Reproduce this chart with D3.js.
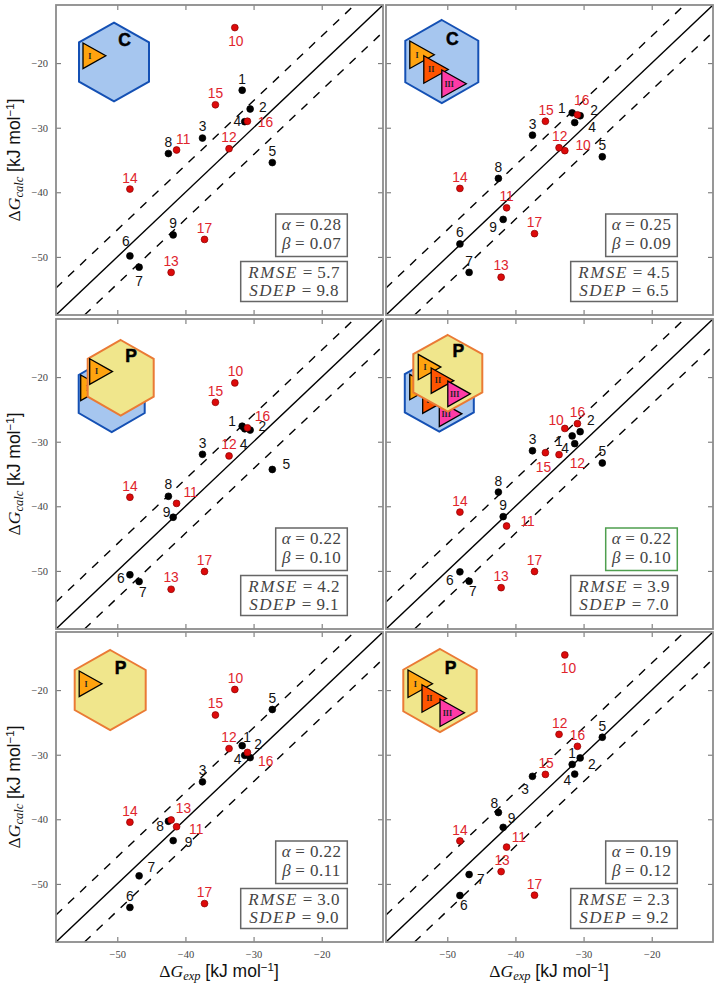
<!DOCTYPE html>
<html><head><meta charset="utf-8">
<script src="https://cdn.jsdelivr.net/npm/d3@7"></script>
<style>
html,body{margin:0;padding:0;background:#fff}
svg{display:block}
text{font-family:"Liberation Sans",Arial,sans-serif}
.math{font-family:"Liberation Serif","DejaVu Serif",serif}
</style></head><body><div id="chart"></div>
<script>
const ligands=[1,2,3,4,5,6,7,8,9,10,11,12,13,14,15,16,17];
const expValues=[-31.67,-30.5,-37.5,-31.3,-27.25,-48.15,-46.8,-42.5,-41.8,-32.75,-41.3,-33.6,-42.1,-48.15,-35.6,-30.9,-37.2];
const calcA=[-24.2,-27.1,-31.6,-29.07,-35.4,-49.85,-51.6,-34.0,-46.6,-14.5,-33.45,-33.25,-52.4,-39.5,-26.45,-29.0,-47.3];
const calcB=[-27.7,-28.15,-31.15,-29.2,-34.5,-48.0,-52.4,-37.85,-44.2,-33.55,-42.4,-33.1,-53.15,-39.4,-29.0,-28.0,-46.4];
const calcC=[-27.6,-28.2,-31.95,-28.0,-34.3,-50.6,-51.65,-38.45,-41.7,-20.9,-39.55,-32.2,-52.85,-38.6,-23.9,-27.85,-50.1];
const calcD=[-29.1,-28.45,-31.4,-30.3,-33.3,-50.15,-51.6,-37.8,-41.6,-27.95,-43.05,-32.0,-52.6,-40.9,-31.7,-27.2,-50.1];
const calcE=[-28.6,-30.45,-34.2,-30.1,-23.0,-53.65,-48.75,-40.3,-43.3,-19.9,-41.15,-29.05,-40.1,-40.45,-23.85,-29.65,-53.05];
const calcF=[-31.5,-30.5,-33.35,-33.0,-27.3,-51.8,-48.55,-38.95,-41.25,-14.55,-44.3,-26.85,-48.1,-43.35,-33.05,-28.7,-51.75];
const alphas=["0.28","0.25","0.22","0.22","0.22","0.19"];
const betas=["0.07","0.09","0.10","0.10","0.11","0.12"];
const rmse=["5.7","4.5","4.2","3.9","3.0","2.3"];
const sdep=["9.8","6.5","9.1","7.0","9.0","9.2"];
const axisTicks=[-50,-40,-30,-20];
const domain=[-59,-11];
const band=4.184;

// layout (separate from data)
const W=719,H=987;
const colX=[56,386], rowY=[5,319,632], pw=327, ph=310;
const labelOffsets=[
 [[0,-11],[12.7,-1],[0,-11.3],[-7.3,0],[0,-11],[-4,-14],[0,14.7],[0,-10.7],[0,-11],[1,14.3],[6.7,-10.7],[0,-11],[0,-11],[0,-11],[0,-11],[18,1],[0,-11]],
 [[-10.3,-4.7],[14,-5],[0,-11],[17.3,5],[0,-11.3],[0,-11],[0,-11.3],[0,-11.3],[-10,8],[18.3,-4.7],[0,-11],[0.7,-11],[0,-11.3],[0,-10.7],[0.7,-11],[4.3,-14.7],[0,-11]],
 [[-10,-4.3],[12.3,-3.7],[0,-11.3],[-1,15.3],[14,-5],[-9,3.7],[3.7,10.7],[0,-11.3],[-6.7,-5],[0.7,-11],[14,-11],[0,-11],[0,-11.3],[0,-11],[0,-11],[15,-11.3],[0,-11.3]],
 [[-13.3,5.7],[10.7,-10.7],[0,-11],[-9.7,5.3],[0,-11.7],[-10,8.7],[3.7,10.7],[0,-11],[0,-11.3],[-8.7,-7.7],[21,-4.3],[18.3,8.7],[0,-11],[0,-10.7],[-2,14.7],[0,-10.7],[0,-11.3]],
 [[5,-7.7],[8,-12.7],[0,-11.3],[-7,4.3],[0,-11.3],[0,-11.3],[12.3,-8.3],[-8.3,5],[15.3,1.7],[0.7,-11],[19.7,2.3],[0,-11],[12.3,-11],[0,-10.7],[0,-11],[18.3,8.7],[0,-11]],
 [[0,-10.7],[11.7,6.7],[-7.3,12.7],[-7.3,6.7],[0,-11],[4,10],[11.7,4.7],[-4,-9],[8.3,-9.3],[3.7,13.7],[12.3,-9.3],[0.7,-10.7],[1,-11],[0,-10.7],[0.7,-10.7],[0,-11],[0,-11]]
];
const BLUE={fill:"#a6c6ef",stroke:"#1450b4"}, YEL={fill:"#f0e68c",stroke:"#ea7a35"};
const TRI=[{fill:"#ffa30f",t:"I",dx:-32,dy:-20.5},{fill:"#ff5400",t:"II",dx:-18,dy:-5.8},{fill:"#ff3ba6",t:"III",dx:0,dy:8.5}];
const TRI1={dx:-31,dy:-19};
const glyphs=[
 [{h:"C",cx:114,cy:62,r:39.3,hw:35,n:1}],
 [{h:"C",cx:441.8,cy:61.5,r:41.5,hw:36.5,n:3}],
 [{h:"C",cx:111.7,cy:394,r:38,hw:33,n:1},{h:"P",cx:120.7,cy:377.8,r:37.8,hw:33,n:1}],
 [{h:"C",cx:439.3,cy:393.3,r:38.3,hw:34.5,n:3},{h:"P",cx:447.8,cy:373.3,r:38.3,hw:34.5,n:3}],
 [{h:"P",cx:110.2,cy:690,r:40,hw:35.5,n:1}],
 [{h:"P",cx:440,cy:690.5,r:41.5,hw:36.7,n:3}]
];
const calc=[calcA,calcB,calcC,calcD,calcE,calcF];

const svg=d3.select("#chart").append("svg").attr("width",W).attr("height",H);
const defs=svg.append("defs");
const x0=d3.scaleLinear().domain(domain).range([0,pw]);
const y0=d3.scaleLinear().domain(domain).range([ph,0]);
const fmt=v=>"\u2212"+Math.abs(v);

function glyph(sel,g){
  const col=g.h==="C"?BLUE:YEL;
  const a=sel.append("g").attr("transform",`translate(${g.cx},${g.cy})`);
  const pts=[[0,-g.r],[g.hw,-g.r/2],[g.hw,g.r/2],[0,g.r],[-g.hw,g.r/2],[-g.hw,-g.r/2]];
  a.append("polygon").attr("points",pts.join(" ")).attr("fill",col.fill).attr("stroke",col.stroke).attr("stroke-width",2);
  const s=g.r/41.5;
  TRI.slice(0,g.n).forEach((t,i)=>{
    const one=g.n===1;
    const dx=one?TRI1.dx:t.dx*s, dy=one?TRI1.dy:t.dy*s;
    const w=one?22.8:24.5*s, h=one?25.6:27.5*s;
    const b=a.append("g").attr("transform",`translate(${dx},${dy})`);
    b.append("polygon").attr("points",[[0,0],[w,h/2],[0,h]].join(" ")).attr("fill",t.fill).attr("stroke","#000").attr("stroke-width",1.3).attr("stroke-linejoin","miter");
    b.append("text").attr("class","math").attr("x",w*0.3).attr("y",h/2+2.8).attr("text-anchor","middle").attr("font-size",8).attr("font-weight","bold").attr("fill","#222").text(t.t);
  });
  a.append("text").attr("x",10.5).attr("y",-22.3).attr("text-anchor","middle").attr("font-size",17.5).attr("font-weight","bold")
    .attr("dominant-baseline","central").attr("fill","#000").attr("stroke","#000").attr("stroke-width",0.5).text(g.h);
}

function box(g,x0b,y0b,x1b,y1b,lines,stroke){
  g.append("rect").attr("x",x0b).attr("y",y0b).attr("width",x1b-x0b).attr("height",y1b-y0b).attr("fill","#fff").attr("stroke",stroke).attr("stroke-width",1.5);
  lines.forEach((l,i)=>{
    const t=g.append("text").attr("class","math").attr("x",(x0b+x1b)/2).attr("y",y0b+(i?34.8:16.4)).attr("text-anchor","middle").attr("font-size",17).attr("fill","#444");
    t.append("tspan").attr("font-style","italic").attr("letter-spacing",l[0].length>1?1.6:0).text(l[0]);
    t.append("tspan").attr("letter-spacing",0.4).text(" = "+l[1]);
  });
}

function axisLabel(sel,x,y,rot,sub){
  const t=sel.append("text").attr("transform",`translate(${x},${y})${rot?" rotate(-90)":""}`).attr("text-anchor","middle").attr("fill","#111").attr("font-size",17.5);
  t.append("tspan").attr("class","math").text("\u0394");
  t.append("tspan").attr("class","math").attr("font-style","italic").text("G");
  t.append("tspan").attr("class","math").attr("font-style","italic").attr("font-size",12.5).attr("dy",3).text(sub);
  t.append("tspan").attr("dy",-3).text(" [kJ mol");
  t.append("tspan").attr("font-size",11.5).attr("dy",-6).text("\u22121");
  t.append("tspan").attr("dy",6).text("]");
}

calc.forEach((ys,pi)=>{
  const col=pi%2,row=Math.floor(pi/2);
  const px=colX[col],py=rowY[row];
  const p=svg.append("g").attr("transform",`translate(${px},${py})`);
  const clipId="clip"+pi;
  defs.append("clipPath").attr("id",clipId).append("rect").attr("width",pw).attr("height",ph);
  const plot=p.append("g").attr("clip-path",`url(#${clipId})`);
  const line=d3.line().x(d=>x0(d[0])).y(d=>y0(d[1]));
  [[0,null],[band,"8.4,8.2"],[-band,"8.4,8.2"]].forEach(([o,dash])=>{
    const start=domain[0]+Math.max(0,-o), end=domain[1]-Math.max(0,o);
    plot.append("path").datum([[start,start+o],[end,end+o]])
      .attr("d",line).attr("fill","none").attr("stroke","#000").attr("stroke-width",1.4).attr("stroke-dasharray",dash);
  });
  // axes: inward ticks on four sides
  const mk=(ax,tr)=>{const a=p.append("g").attr("transform",tr).call(ax);a.select(".domain").remove();a.selectAll("line").attr("stroke","#444").attr("stroke-width",0.8);return a;};
  const left=mk(d3.axisLeft(y0).tickValues(axisTicks).tickSize(-5).tickPadding(8).tickFormat(fmt),"translate(0,0)");
  const right=mk(d3.axisRight(y0).tickValues(axisTicks).tickSize(-5).tickFormat(""),`translate(${pw},0)`);
  const top=mk(d3.axisTop(x0).tickValues(axisTicks).tickSize(-5).tickFormat(""),"translate(0,0)");
  const bot=mk(d3.axisBottom(x0).tickValues(axisTicks).tickSize(-5).tickPadding(9).tickFormat(fmt),`translate(0,${ph})`);
  if(col===1) left.selectAll("text").remove();
  if(row<2) bot.selectAll("text").remove();
  [left,bot].forEach(a=>a.selectAll("text").attr("class","math").style("font-family",'"Liberation Serif",serif').attr("font-size",10.5).attr("fill","#444"));
  p.append("rect").attr("width",pw).attr("height",ph).attr("fill","none").attr("stroke","#8c8c8c").attr("stroke-width",1.8);

  const pts=ligands.map((id,i)=>({id,x:expValues[i],y:ys[i],o:labelOffsets[pi][i]}));
  const red=d=>d.id>=10;
  p.append("g").selectAll("circle").data(pts).join("circle")
    .attr("cx",d=>x0(d.x)).attr("cy",d=>y0(d.y)).attr("r",3.4)
    .attr("fill",d=>red(d)?"#dd0a0a":"#000").attr("stroke",d=>red(d)?"#8a0000":"#000").attr("stroke-width",0.7);
  p.append("g").selectAll("text").data(pts).join("text")
    .attr("x",d=>x0(d.x)+d.o[0]).attr("y",d=>y0(d.y)+d.o[1]).attr("text-anchor","middle").attr("dominant-baseline","central")
    .attr("font-size",13.8).attr("fill",d=>red(d)?"#e0242c":"#111").text(d=>d.id);

  const bg=p.append("g");
  const by=[209,251.5,256.5,296.5];
  box(bg,219.7,by[0],291.3,by[1],[["\u03b1",alphas[pi]],["\u03b2",betas[pi]]],pi===3?"#4f9f4f":"#666");
  box(bg,184.7,by[2],291.3,by[3],[["RMSE",rmse[pi]],["SDEP",sdep[pi]]],"#666");
  if(col===0) axisLabel(svg,20,py+155,true,"calc");
  if(row===2) axisLabel(svg,px+163,977,false,"exp");
  glyphs[pi].forEach(g=>glyph(svg,g));
});
</script></body></html>
